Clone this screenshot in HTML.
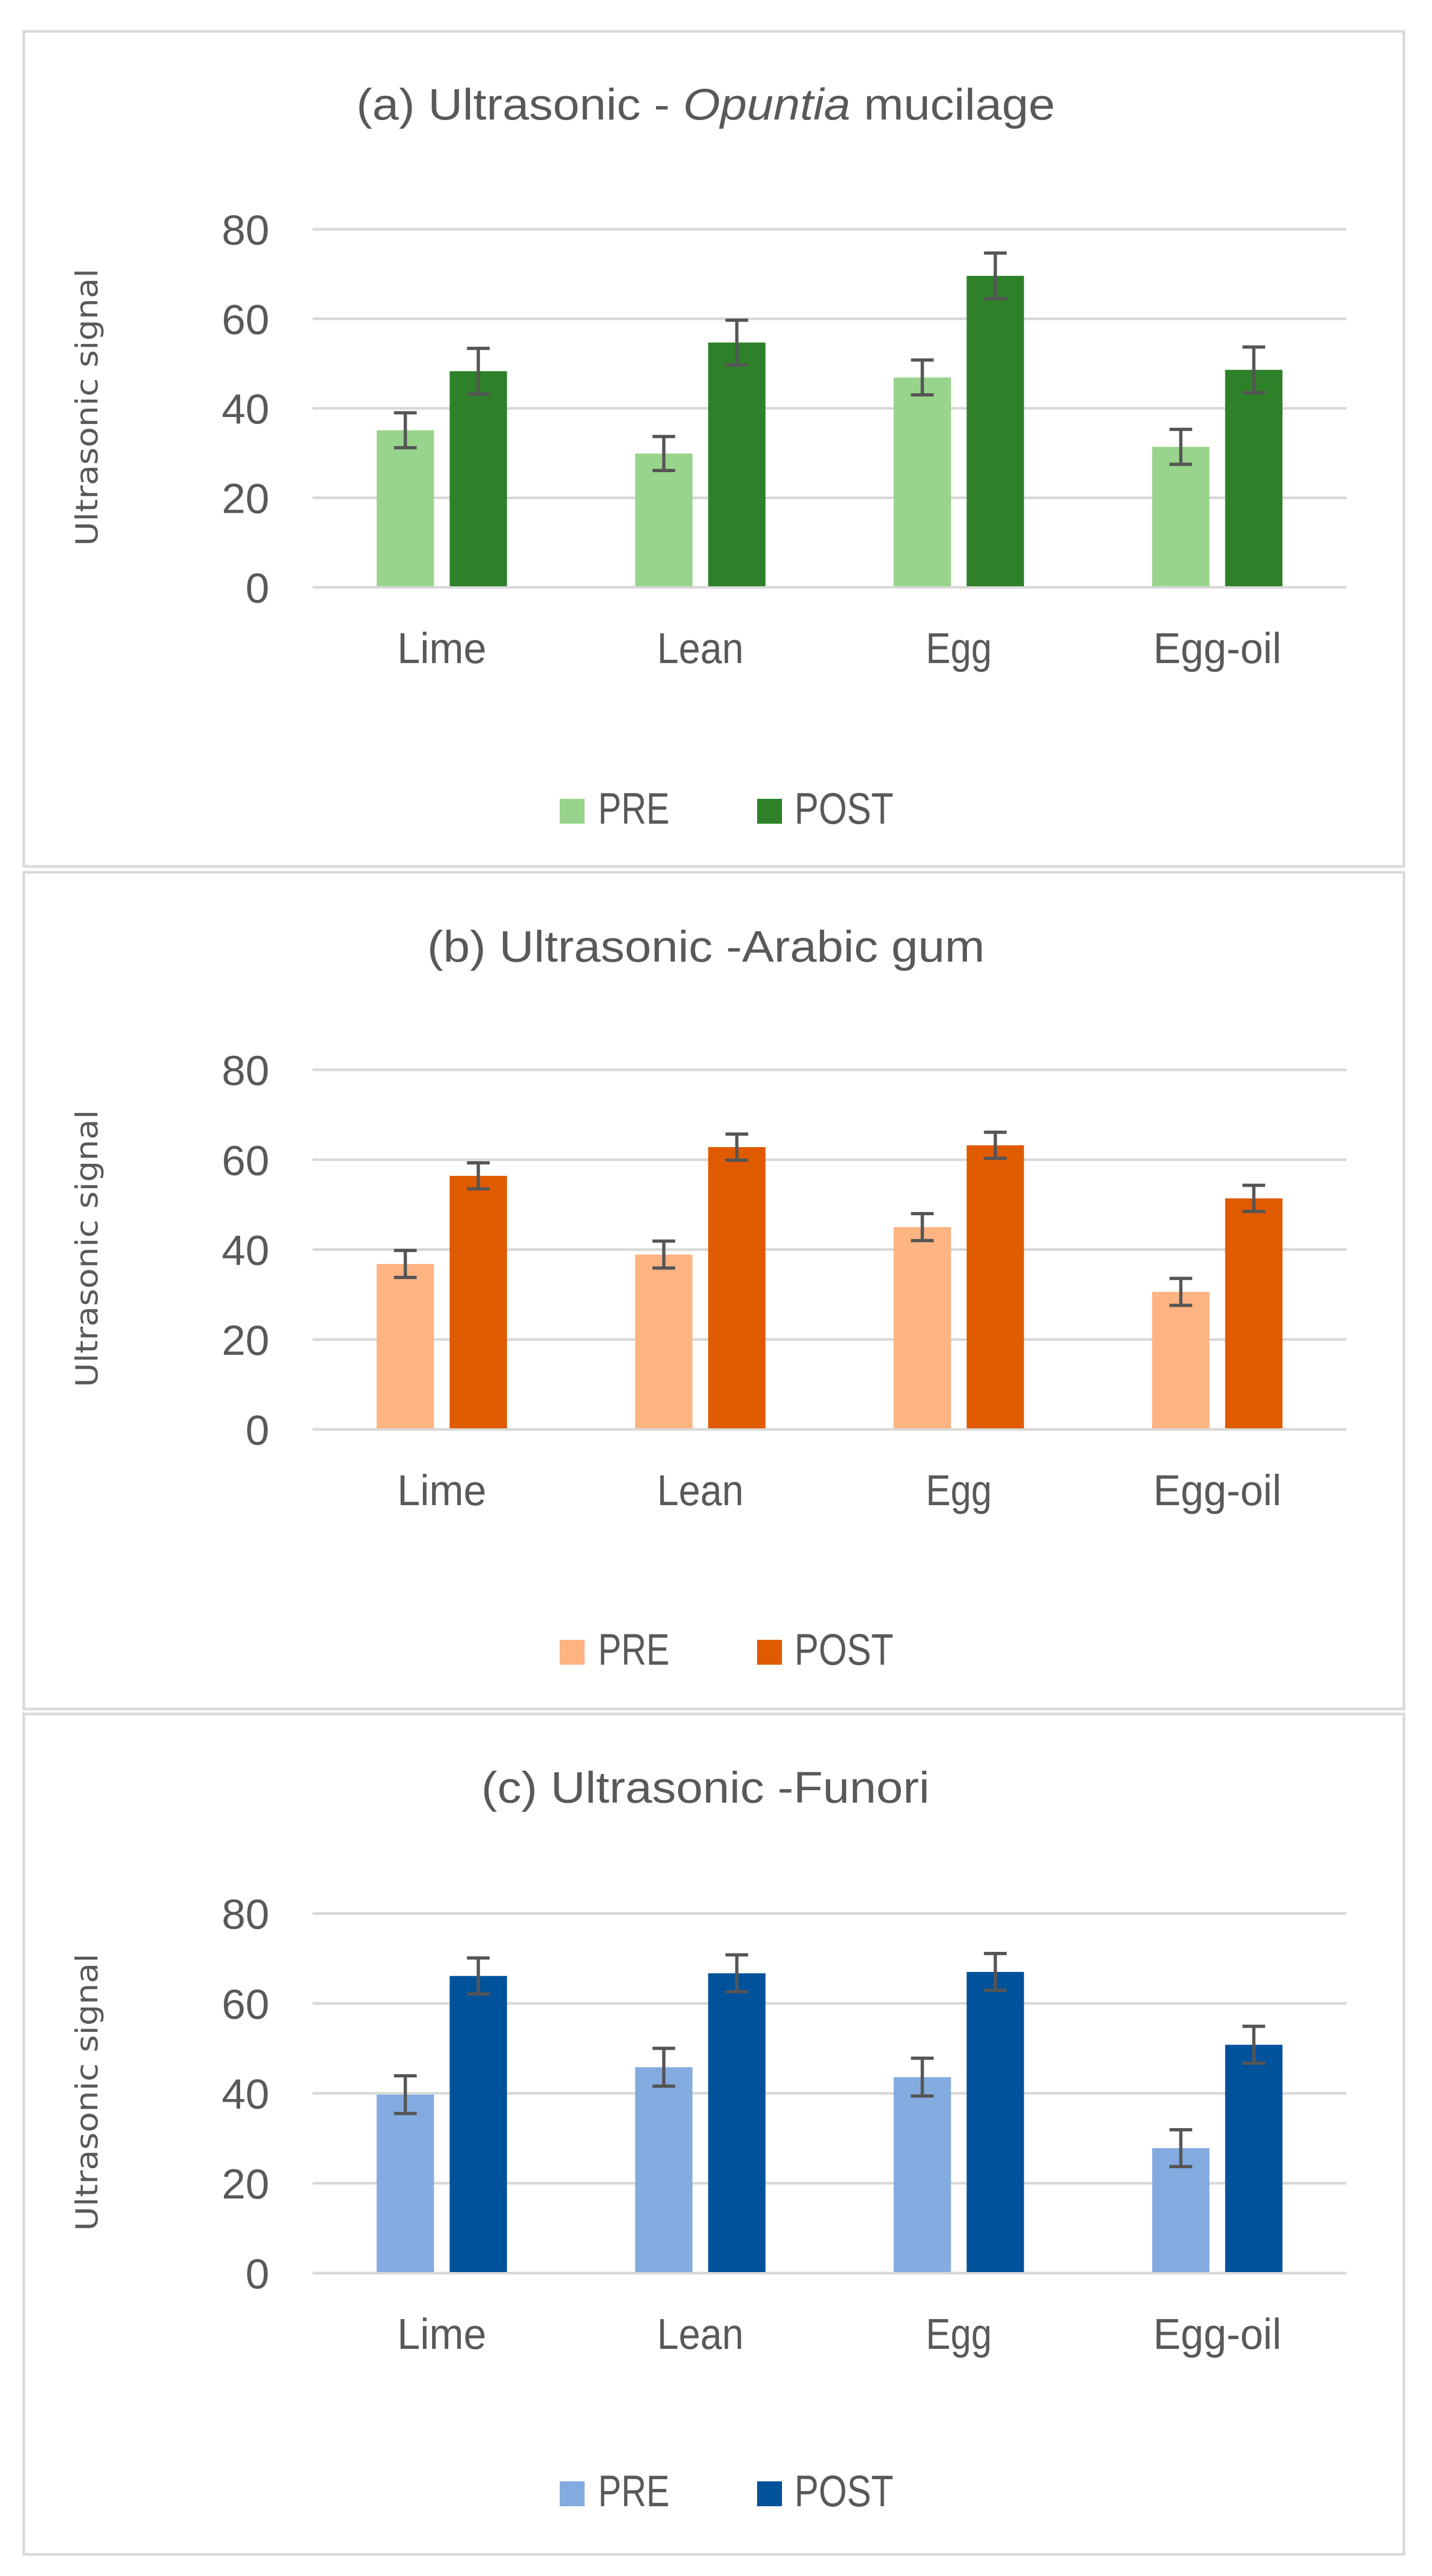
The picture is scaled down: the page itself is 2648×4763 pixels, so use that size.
<!DOCTYPE html>
<html><head><meta charset="utf-8">
<style>
html,body{margin:0;padding:0;background:#fff;}
svg{display:block;}
text{font-family:"Liberation Sans",sans-serif;fill:#595959;}
</style></head>
<body>
<svg id="fig" width="2648" height="4763" viewBox="0 0 2648 4763" xmlns="http://www.w3.org/2000/svg"></svg>
<script>
const categories = ["Lime","Lean","Egg","Egg-oil"];
const yTicks = [0,20,40,60,80];
const titlesA = "(a) Ultrasonic - ";
const preA = [35.1,29.9,46.9,31.4];
const postA = [48.3,54.7,69.6,48.6];
const preErrA = [3.9,3.8,3.9,3.9];
const postErrA = [5.1,5.0,5.1,5.1];
const preB = [36.8,38.9,45.0,30.6];
const postB = [56.4,62.8,63.2,51.4];
const preErrB = [3.0,3.0,3.0,3.0];
const postErrB = [2.9,2.9,2.9,2.9];
const preC = [39.7,45.8,43.6,27.8];
const postC = [66.1,66.7,67.0,50.8];
const preErrC = [4.2,4.2,4.2,4.1];
const postErrC = [4.0,4.1,4.1,4.1];

const labelWidths = {"Lime":165,"Lean":160,"Egg":122,"Egg-oil":237};

const NS = "http://www.w3.org/2000/svg";
const svg = document.getElementById('fig');
function mk(tag, attrs, parent){
  const e = document.createElementNS(NS, tag);
  for (const k in attrs) e.setAttribute(k, attrs[k]);
  (parent||svg).appendChild(e);
  return e;
}

const panels = [
  {id:'a', top:58, bottom:1602, y80:424, y0:1086, titleY:221, titleLen:1292, titleX:659,
   pre:preA, post:postA, preErr:preErrA, postErr:postErrA, preCol:"#98d48b", postCol:"#2e8129"},
  {id:'b', top:1613, bottom:3160, y80:1978, y0:2643, titleY:1778, titleLen:1031, titleX:790,
   title:"(b) Ultrasonic -Arabic gum",
   pre:preB, post:postB, preErr:preErrB, postErr:postErrB, preCol:"#fdb382", postCol:"#e05a00"},
  {id:'c', top:3169, bottom:4723, y80:3538, y0:4203, titleY:3333, titleLen:829, titleX:890,
   title:"(c) Ultrasonic -Funori",
   pre:preC, post:postC, preErr:preErrC, postErr:postErrC, preCol:"#83abdf", postCol:"#00529b"}
];

const plotL = 578, plotR = 2490;
const groupW = (plotR - plotL) / categories.length;
const barW = 106, gap = 29;

panels.forEach(p => {
  const g = mk('g', {});
  
  
  const box = mk('rect', {x:44, y:p.top, width:2552, height:p.bottom-p.top, fill:'#fff', stroke:'#d9d9d9', 'stroke-width':5}, g);
  
  

  const yS = v => p.y0 - (v/80)*(p.y0 - p.y80);

  const t = mk('text', {x:p.titleX, y:p.titleY, 'font-size':82, textLength:p.titleLen, lengthAdjust:'spacingAndGlyphs'}, g);
  
  
  if (p.id === 'a') {
    const s1 = mk('tspan', {}, t); s1.textContent = titlesA;
    const s2 = mk('tspan', {'font-style':'italic'}, t); s2.textContent = "Opuntia";
    const s3 = mk('tspan', {}, t); s3.textContent = " mucilage";
  } else {
    t.textContent = p.title;
  }

  yTicks.forEach(v => {
    const y = yS(v);
    const gl = mk('line', {x1:plotL, x2:plotR, y1:y, y2:y, stroke:'#d9d9d9', 'stroke-width':5}, g);
    
    
    const tl = mk('text', {x:498, y:y+28, 'font-size':78, 'text-anchor':'end', textLength: (String(v).length*44), lengthAdjust:'spacingAndGlyphs'}, g);
    
    
    tl.textContent = v;
  });

  const yc = (p.y80 + p.y0)/2 - 2;
  const yt = mk('text', {x:0, y:0, 'font-size':56, 'text-anchor':'middle', textLength:513, lengthAdjust:'spacingAndGlyphs',
    style:'font-family:"DejaVu Sans",sans-serif', transform:`translate(180,${yc}) rotate(-90)`}, g);
  
  
  yt.textContent = "Ultrasonic signal";

  categories.forEach((c, i) => {
    const cx = plotL + groupW*(i+0.5);
    const series = [
      {v:p.pre[i], e:p.preErr[i], x:cx - gap/2 - barW, col:p.preCol, n:'pre'},
      {v:p.post[i], e:p.postErr[i], x:cx + gap/2, col:p.postCol, n:'post'}
    ];
    series.forEach(s => {
      const r = mk('rect', {x:s.x, y:yS(s.v), width:barW, height:p.y0 - yS(s.v) - 2, fill:s.col}, g);
      
      
      const bx = s.x + barW/2;
      const eg = mk('g', {stroke:'#555', 'stroke-width':6, fill:'none'}, g);
      
      
      mk('line', {x1:bx, x2:bx, y1:yS(s.v+s.e), y2:yS(s.v-s.e)}, eg);
      mk('line', {x1:bx-21, x2:bx+21, y1:yS(s.v+s.e), y2:yS(s.v+s.e)}, eg);
      mk('line', {x1:bx-21, x2:bx+21, y1:yS(s.v-s.e), y2:yS(s.v-s.e)}, eg);
    });
    const cl = mk('text', {x:cx, y:p.y0 + 140, 'font-size':80, 'text-anchor':'middle',
      textLength: labelWidths[c] || c.length*40, lengthAdjust:'spacingAndGlyphs'}, g);
    
    
    cl.textContent = c;
  });

  const ly = p.top + 1465;
  const lg = mk('g', {}, g);
  
  
  const s1 = mk('rect', {x:1035, y:ly-46, width:46, height:46, fill:p.preCol}, lg);
  
  
  const t1 = mk('text', {x:1106, y:ly, 'font-size':82, textLength:132, lengthAdjust:'spacingAndGlyphs'}, lg);
  
  
  t1.textContent = "PRE";
  const s2 = mk('rect', {x:1400, y:ly-46, width:46, height:46, fill:p.postCol}, lg);
  
  
  const t2 = mk('text', {x:1469, y:ly, 'font-size':82, textLength:183, lengthAdjust:'spacingAndGlyphs'}, lg);
  
  
  t2.textContent = "POST";
});
</script>
</body></html>
